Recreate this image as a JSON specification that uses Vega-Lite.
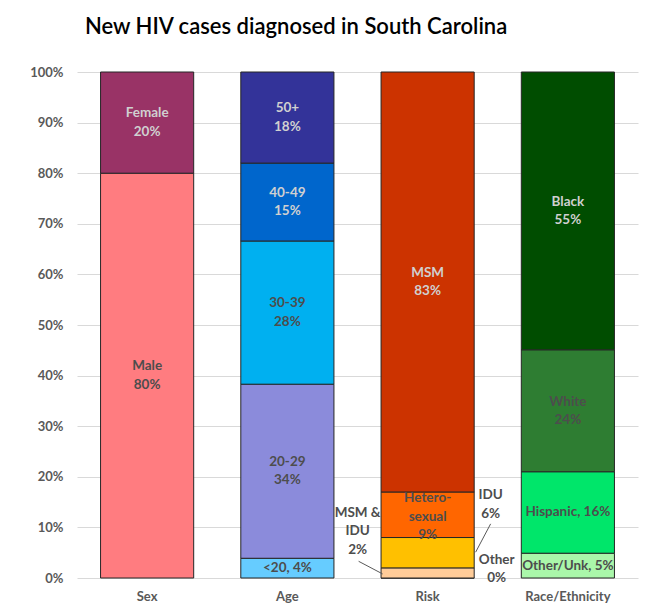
{
  "$schema": "https://vega.github.io/schema/vega-lite/v6.json",
  "autosize": "none",
  "width": 561,
  "height": 506,
  "padding": {"left": 77, "top": 72, "right": 23, "bottom": 26},
  "background": "white",
  "title": {
    "text": "New HIV cases diagnosed in South Carolina",
    "anchor": "start",
    "frame": "group",
    "dx": 8,
    "offset": 10,
    "baseline": "alphabetic",
    "font": "Lato",
    "fontSize": 22,
    "fontWeight": 600,
    "color": "#000000"
  },
  "config": {
    "view": {"stroke": null},
    "font": "Lato"
  },
  "data": {
    "values": [
      {"cat": "Sex", "group": "Male", "value": 80, "ord": 1, "label": "Male\n80%"},
      {"cat": "Sex", "group": "Female", "value": 20, "ord": 2, "label": "Female\n20%"},
      {"cat": "Age", "group": "<20", "value": 3.9, "ord": 1, "label": "<20, 4%"},
      {"cat": "Age", "group": "20-29", "value": 34.4, "ord": 2, "label": "20-29\n34%"},
      {"cat": "Age", "group": "30-39", "value": 28.3, "ord": 3, "label": "30-39\n28%"},
      {"cat": "Age", "group": "40-49", "value": 15.4, "ord": 4, "label": "40-49\n15%"},
      {"cat": "Age", "group": "50+", "value": 18.0, "ord": 5, "label": "50+\n18%"},
      {"cat": "Risk", "group": "Other", "value": 0, "ord": 1, "label": "Other\n0%"},
      {"cat": "Risk", "group": "MSM & IDU", "value": 2, "ord": 2, "label": "MSM &\nIDU\n2%"},
      {"cat": "Risk", "group": "IDU", "value": 6, "ord": 3, "label": "IDU\n6%"},
      {"cat": "Risk", "group": "Hetero", "value": 9, "ord": 4, "label": "Hetero-\nsexual\n9%"},
      {"cat": "Risk", "group": "MSM", "value": 83, "ord": 5, "label": "MSM\n83%"},
      {"cat": "Race/Ethnicity", "group": "Other/Unk", "value": 4.9, "ord": 1, "label": "Other/Unk, 5%"},
      {"cat": "Race/Ethnicity", "group": "Hispanic", "value": 16.1, "ord": 2, "label": "Hispanic, 16%"},
      {"cat": "Race/Ethnicity", "group": "White", "value": 24.1, "ord": 3, "label": "White\n24%"},
      {"cat": "Race/Ethnicity", "group": "Black", "value": 54.9, "ord": 4, "label": "Black\n55%"}
    ]
  },
  "encoding": {
    "x": {
      "field": "cat",
      "type": "nominal",
      "sort": ["Sex", "Age", "Risk", "Race/Ethnicity"],
      "scale": {"paddingInner": 0.336, "paddingOuter": 0.168},
      "axis": {
        "title": null,
        "labelAngle": 0,
        "ticks": false,
        "domain": false,
        "labelPadding": 12,
        "labelFont": "Lato",
        "labelFontSize": 13,
        "labelFontWeight": "bold",
        "labelColor": "#595959"
      }
    }
  },
  "layer": [
    {
      "mark": {"type": "bar", "stroke": "#262626", "strokeWidth": 1},
      "encoding": {
        "y": {
          "field": "value",
          "type": "quantitative",
          "stack": "zero",
          "scale": {"domain": [0, 100], "nice": false},
          "axis": {
            "title": null,
            "values": [0, 10, 20, 30, 40, 50, 60, 70, 80, 90, 100],
            "labelExpr": "datum.value + '%'",
            "ticks": false,
            "domain": false,
            "grid": true,
            "gridColor": "#D9D9D9",
            "labelPadding": 14,
            "labelFont": "Lato",
            "labelFontSize": 13,
            "labelFontWeight": "bold",
            "labelColor": "#595959"
          }
        },
        "order": {"field": "ord", "type": "quantitative"},
        "color": {
          "field": "group",
          "type": "nominal",
          "legend": null,
          "scale": {
            "domain": ["Male", "Female", "<20", "20-29", "30-39", "40-49", "50+", "Other", "MSM & IDU", "IDU", "Hetero", "MSM", "Other/Unk", "Hispanic", "White", "Black"],
            "range": ["#FF7C80", "#993366", "#66CCFF", "#8B8BDB", "#00B0F0", "#0066CC", "#333399", "#FFCC99", "#FFCC99", "#FFC000", "#FF6600", "#CC3300", "#AAF7AA", "#00E66A", "#2E7D32", "#004D00"]
          }
        }
      }
    },
    {
      "transform": [
        {"stack": "value", "groupby": ["cat"], "sort": [{"field": "ord"}], "as": ["v0", "v1"]},
        {"calculate": "(datum.v0 + datum.v1) / 2", "as": "mid"},
        {"filter": "indexof(['Other', 'MSM & IDU', 'IDU', 'Hetero'], datum.group) < 0 && indexof(datum.label, '\\n') >= 0"}
      ],
      "mark": {"type": "text", "font": "Lato", "fontSize": 13.5, "fontWeight": "bold", "lineBreak": "\n", "lineHeight": 18.5, "baseline": "middle", "dy": -9.25},
      "encoding": {
        "y": {"field": "mid", "type": "quantitative"},
        "text": {"field": "label"},
        "color": {
          "condition": {"test": "indexof(['Female', '50+', '40-49', 'MSM', 'Black'], datum.group) >= 0", "value": "#D0D0D0"},
          "value": "#4D4D4D"
        }
      }
    },
    {
      "transform": [
        {"stack": "value", "groupby": ["cat"], "sort": [{"field": "ord"}], "as": ["v0", "v1"]},
        {"calculate": "(datum.v0 + datum.v1) / 2", "as": "mid"},
        {"filter": "indexof(datum.label, '\\n') < 0"}
      ],
      "mark": {"type": "text", "font": "Lato", "fontSize": 13.5, "fontWeight": "bold", "baseline": "middle", "color": "#4D4D4D"},
      "encoding": {
        "y": {"field": "mid", "type": "quantitative"},
        "text": {"field": "label"}
      }
    },
    {
      "transform": [{"filter": "datum.group === 'Hetero'"}],
      "mark": {"type": "text", "font": "Lato", "fontSize": 13.5, "fontWeight": "bold", "lineBreak": "\n", "lineHeight": 18.5, "baseline": "middle", "color": "#4D4D4D"},
      "encoding": {"y": {"datum": 15.8}, "text": {"field": "label"}}
    },
    {
      "transform": [{"filter": "datum.group === 'MSM & IDU'"}],
      "mark": {"type": "text", "font": "Lato", "fontSize": 13.5, "fontWeight": "bold", "lineBreak": "\n", "lineHeight": 18.5, "baseline": "middle", "color": "#4D4D4D", "dx": -70},
      "encoding": {"y": {"datum": 12.85}, "text": {"field": "label"}}
    },
    {
      "transform": [{"filter": "datum.group === 'IDU'"}],
      "mark": {"type": "text", "font": "Lato", "fontSize": 13.5, "fontWeight": "bold", "lineBreak": "\n", "lineHeight": 18.5, "baseline": "middle", "color": "#4D4D4D", "dx": 63},
      "encoding": {"y": {"datum": 16.4}, "text": {"field": "label"}}
    },
    {
      "transform": [{"filter": "datum.group === 'Other'"}],
      "mark": {"type": "text", "font": "Lato", "fontSize": 13.5, "fontWeight": "bold", "lineBreak": "\n", "lineHeight": 18.5, "baseline": "middle", "color": "#4D4D4D", "dx": 69},
      "encoding": {"y": {"datum": 3.56}, "text": {"field": "label"}}
    },
    {
      "transform": [{"filter": "datum.group === 'MSM & IDU'"}],
      "mark": {"type": "rule", "color": "#595959", "strokeWidth": 1, "xOffset": -69, "x2Offset": -45},
      "encoding": {"x2": {"field": "cat"}, "y": {"datum": 3.3}, "y2": {"datum": 0.8}}
    },
    {
      "transform": [{"filter": "datum.group === 'IDU'"}],
      "mark": {"type": "rule", "color": "#595959", "strokeWidth": 1, "xOffset": 63, "x2Offset": 48},
      "encoding": {"x2": {"field": "cat"}, "y": {"datum": 10.7}, "y2": {"datum": 5.1}}
    }
  ]
}
